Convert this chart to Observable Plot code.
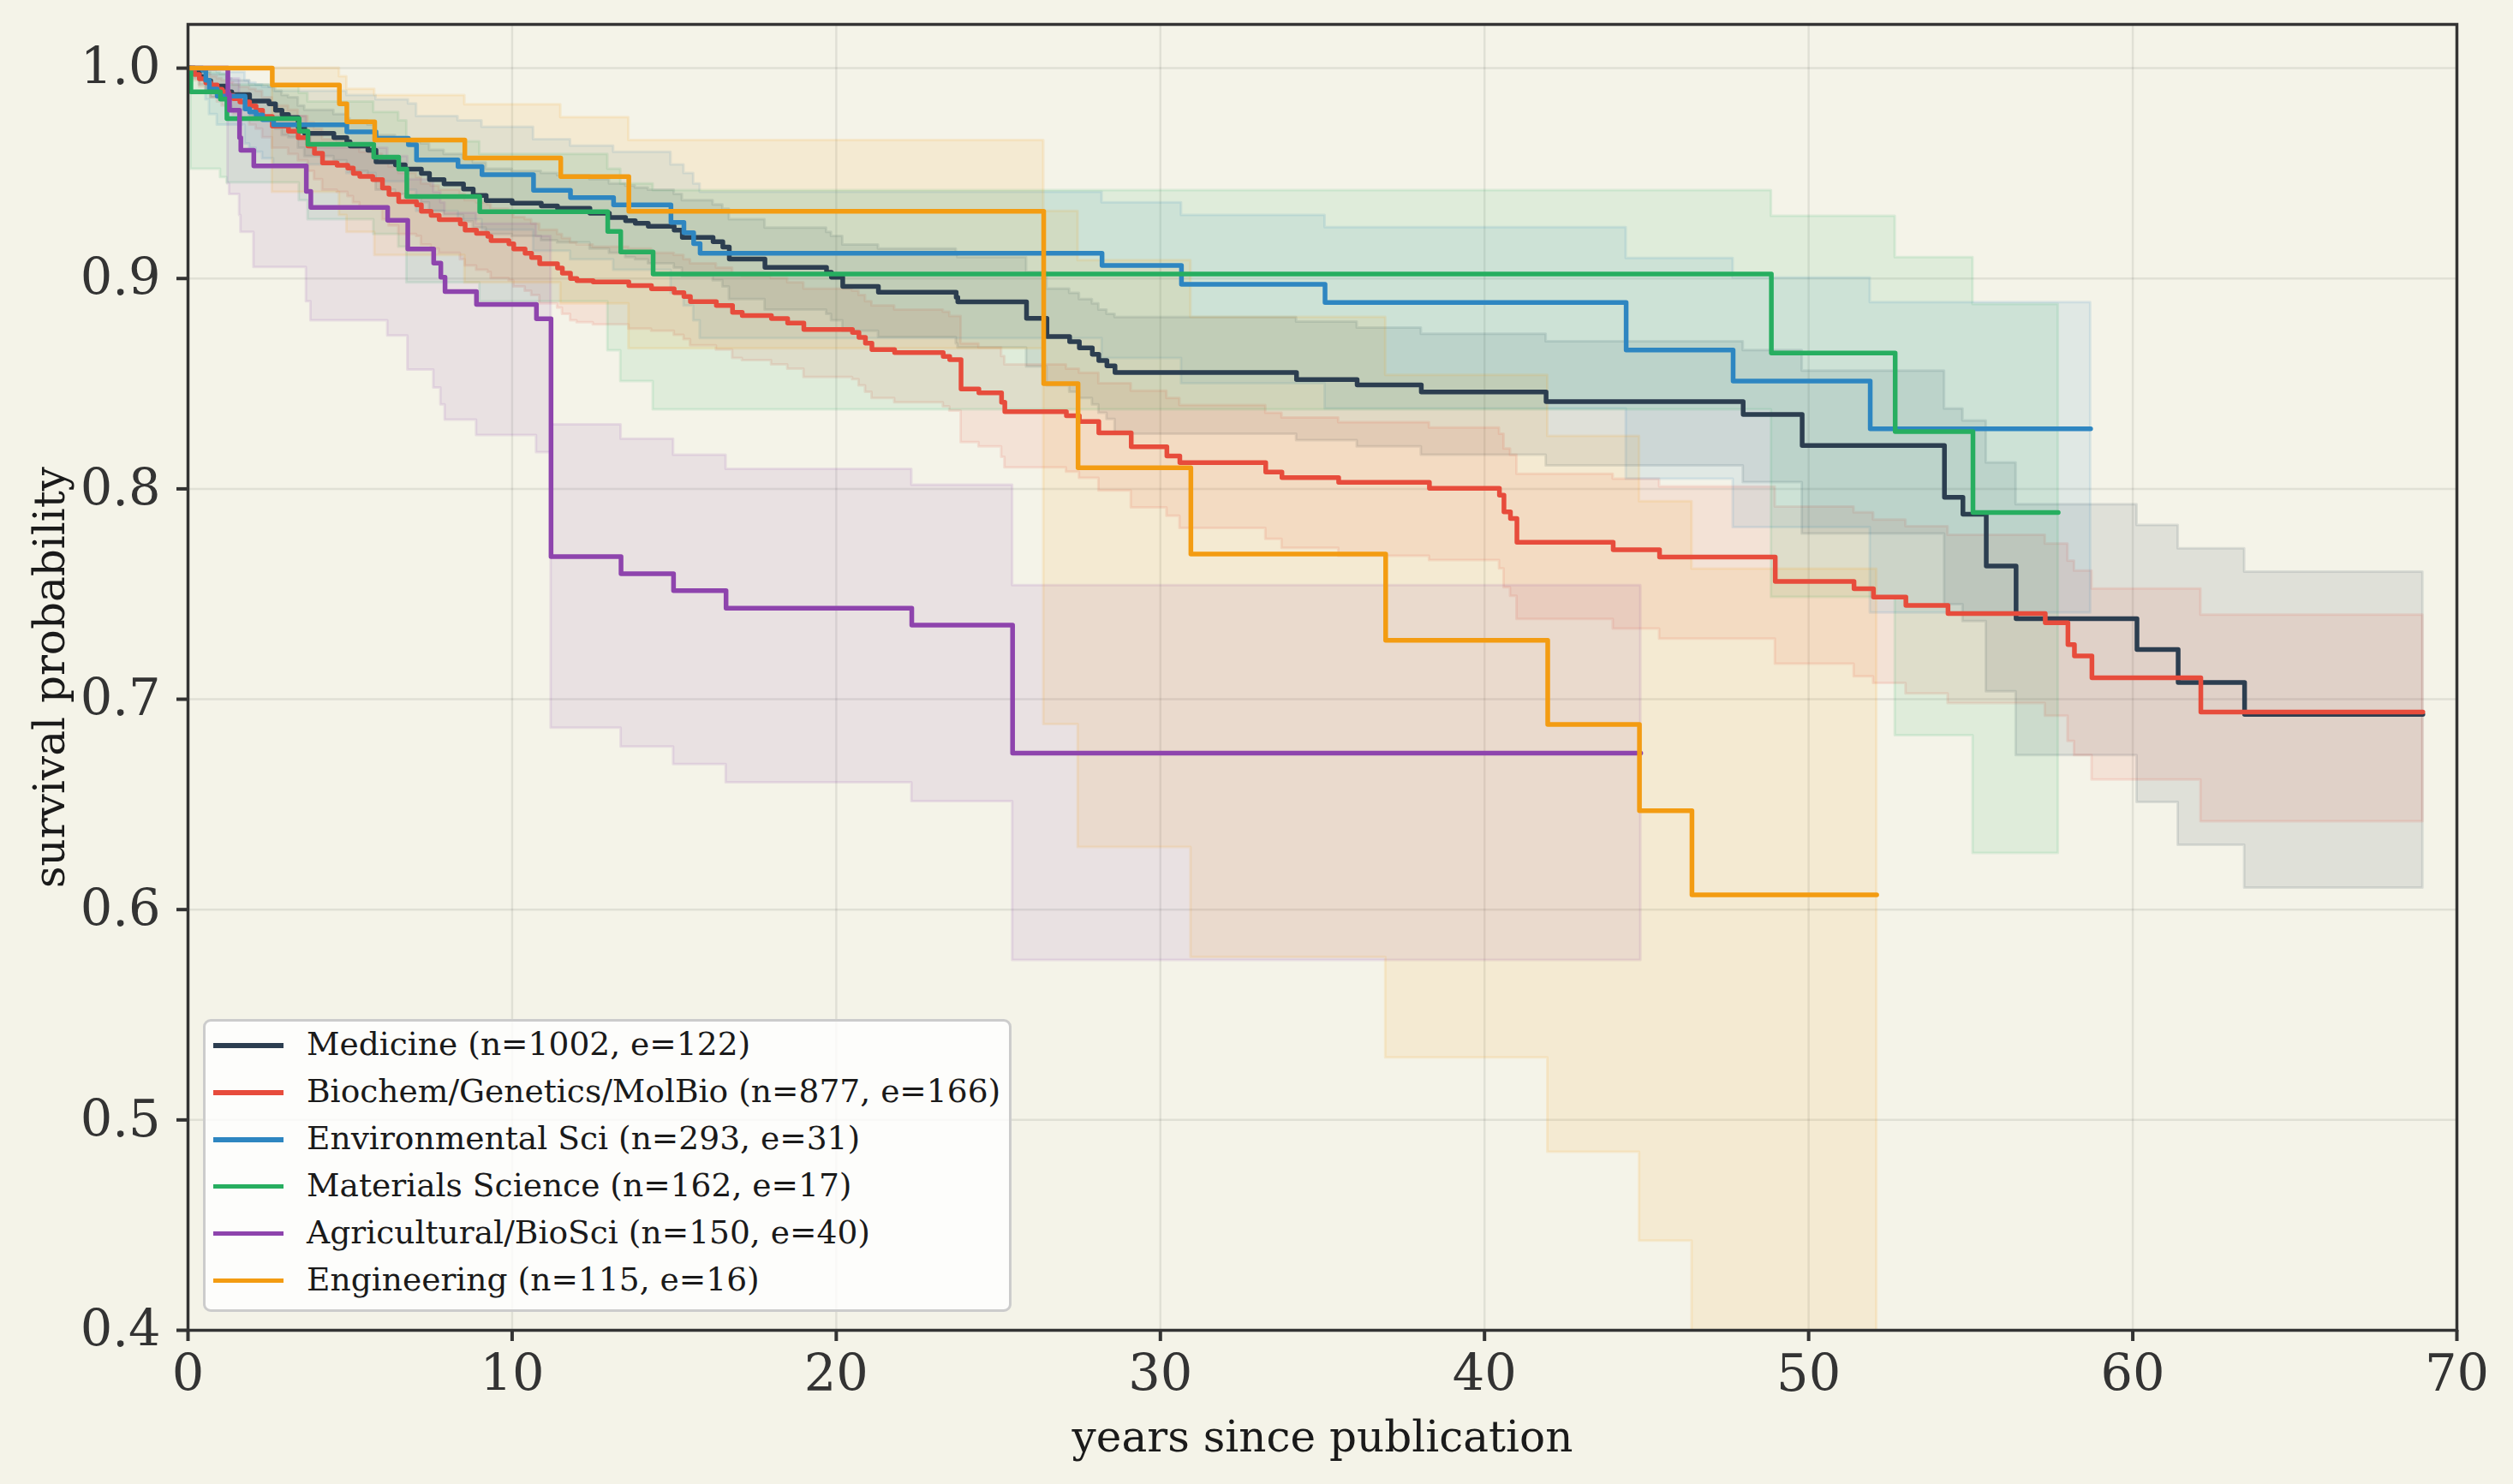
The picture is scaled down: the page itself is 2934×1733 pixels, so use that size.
<!DOCTYPE html>
<html><head><meta charset="utf-8">
<script src="https://cdn.jsdelivr.net/npm/d3@7"></script>
<script src="https://cdn.jsdelivr.net/npm/@observablehq/plot@0.6"></script>
<style>
html,body{margin:0;padding:0;background:#f4f3e8;}
#wrap{position:relative;width:2934px;height:1733px;background:#f4f3e8;font-family:"DejaVu Serif",serif;overflow:hidden;}
#legend{position:absolute;left:237px;top:1190px;width:938px;height:336px;background:rgba(255,255,255,0.8);border:3px solid #cccccc;border-radius:9px;}
.row{position:absolute;left:0;height:0;}
.sw{position:absolute;left:9px;width:82px;height:5.5px;top:-2.75px;}
.lab{position:absolute;left:118px;top:0;transform:translateY(-52%);font-size:37.6px;color:#1a1a1a;white-space:nowrap;line-height:1;}
</style></head><body><div id="wrap"></div>
<script>
const names = ["Medicine","Biochem/Genetics/MolBio","Environmental Sci","Materials Science","Agricultural/BioSci","Engineering"];
const nCounts = [1002,877,293,162,150,115];
const eCounts = [122,166,31,17,40,16];
const colors = ["#2c3e50","#e74c3c","#2e86c1","#27ae60","#8e44ad","#f39c12"];
const xTicks = [0,10,20,30,40,50,60,70];
const yTicks = [0.4,0.5,0.6,0.7,0.8,0.9,1.0];

// Medicine
const medT = [0,0.2,0.35,0.55,0.7,1.2,1.35,1.9,2.5,2.7,2.9,3.1,3.4,3.6,4.5,4.9,5.0,5.55,5.8,6.4,6.7,7.2,7.45,7.9,8.5,8.8,9.2,10.0,10.9,11.4,12.4,13.0,13.5,13.8,14.2,15.0,15.25,16.2,16.5,16.7,17.8,19.7,19.85,20.2,21.3,23.7,23.75,25.87,26.5,27.2,27.5,27.9,28.1,28.35,28.6,34.2,36.07,38.05,41.9,47.98,49.8,54.19,54.76,55.48,56.4,60.13,61.4,63.45,68.95];
const medS = [1.0,0.998,0.996,0.994,0.9915,0.9887,0.9874,0.9844,0.983,0.980,0.978,0.9765,0.972,0.969,0.967,0.965,0.963,0.961,0.9555,0.954,0.952,0.950,0.947,0.945,0.9425,0.9395,0.937,0.9358,0.9345,0.9334,0.931,0.929,0.9275,0.9263,0.9248,0.923,0.9195,0.9175,0.915,0.9093,0.9053,0.903,0.9006,0.8962,0.8935,0.891,0.8889,0.8811,0.8724,0.870,0.867,0.864,0.861,0.8585,0.8553,0.852,0.8494,0.8461,0.8415,0.8354,0.8206,0.796,0.788,0.7633,0.7383,0.7236,0.708,0.6928,0.6928];
const medHi = [1.0,1.0,0.999,0.998,0.997,0.995,0.994,0.992,0.991,0.989,0.987,0.986,0.982,0.980,0.978,0.976,0.975,0.973,0.968,0.967,0.965,0.964,0.961,0.959,0.957,0.955,0.952,0.951,0.950,0.949,0.947,0.945,0.944,0.943,0.942,0.940,0.937,0.935,0.933,0.928,0.924,0.922,0.920,0.916,0.914,0.912,0.910,0.903,0.895,0.893,0.890,0.888,0.885,0.883,0.8815,0.8793,0.8765,0.8735,0.870,0.8658,0.856,0.838,0.8323,0.8124,0.7925,0.7827,0.7716,0.7605,0.7605];
const medLo = [1.0,0.995,0.992,0.989,0.986,0.982,0.980,0.977,0.975,0.971,0.968,0.967,0.962,0.958,0.956,0.953,0.951,0.948,0.942,0.940,0.938,0.936,0.932,0.930,0.927,0.924,0.921,0.920,0.918,0.917,0.914,0.912,0.910,0.909,0.907,0.905,0.901,0.899,0.896,0.890,0.885,0.883,0.880,0.875,0.872,0.869,0.867,0.858,0.849,0.846,0.843,0.840,0.836,0.833,0.826,0.823,0.820,0.816,0.811,0.803,0.7786,0.745,0.737,0.7036,0.6733,0.651,0.6306,0.6103,0.6103];

// Biochem/Genetics/MolBio
const bioT = [0,0.2,0.35,0.55,0.7,0.9,1.05,1.25,1.4,1.6,1.9,2.1,2.3,2.6,3.1,3.4,3.7,3.9,4.15,4.6,4.93,5.1,5.3,5.7,6.0,6.2,6.5,7.05,7.2,7.5,7.75,8.4,8.55,8.9,9.25,9.35,9.9,10.05,10.4,10.6,10.85,11.4,11.55,11.8,12.0,12.5,13.6,14.3,15.0,15.3,15.5,16.3,16.8,17.1,18.0,18.5,19.0,20.5,20.7,20.9,21.1,21.8,23.3,23.5,23.85,24.4,25.1,25.2,27.1,27.5,28.1,29.1,30.2,30.6,33.25,33.75,35.5,38.3,40.46,40.6,40.8,41.0,43.97,45.4,48.97,51.4,52.0,53.0,54.3,57.3,58.0,58.2,58.74,62.1,68.95];
const bioS = [1.0,0.997,0.995,0.993,0.992,0.990,0.9887,0.987,0.9855,0.984,0.982,0.980,0.977,0.9725,0.970,0.967,0.963,0.9595,0.955,0.9538,0.9525,0.950,0.9485,0.947,0.943,0.940,0.9365,0.935,0.932,0.930,0.928,0.926,0.923,0.9215,0.920,0.918,0.9165,0.914,0.912,0.910,0.907,0.905,0.9025,0.900,0.899,0.8984,0.8966,0.8951,0.8933,0.8915,0.889,0.8872,0.8839,0.8824,0.881,0.8788,0.8758,0.8744,0.872,0.8693,0.8662,0.8648,0.863,0.8614,0.8475,0.8457,0.8412,0.8367,0.8348,0.832,0.8266,0.820,0.8156,0.8125,0.808,0.8054,0.8031,0.8003,0.797,0.7891,0.7859,0.7746,0.7711,0.7676,0.756,0.7525,0.7486,0.7446,0.7407,0.7364,0.726,0.7206,0.7102,0.6939,0.6939];
const bioHi = [1.0,0.999,0.998,0.997,0.996,0.995,0.994,0.993,0.992,0.991,0.990,0.989,0.986,0.982,0.980,0.977,0.974,0.971,0.966,0.965,0.964,0.962,0.960,0.959,0.955,0.953,0.950,0.948,0.945,0.944,0.942,0.940,0.937,0.936,0.935,0.933,0.932,0.929,0.928,0.926,0.923,0.921,0.919,0.917,0.916,0.915,0.914,0.912,0.911,0.909,0.907,0.905,0.902,0.901,0.900,0.898,0.895,0.894,0.892,0.889,0.887,0.885,0.884,0.882,0.869,0.867,0.863,0.859,0.857,0.855,0.850,0.8465,0.843,0.8396,0.836,0.8337,0.8315,0.829,0.826,0.819,0.816,0.807,0.8046,0.801,0.7914,0.7887,0.7852,0.782,0.778,0.7738,0.7657,0.761,0.7524,0.74,0.74];
const bioLo = [1.0,0.994,0.991,0.988,0.986,0.984,0.982,0.980,0.978,0.976,0.973,0.971,0.967,0.962,0.959,0.956,0.951,0.947,0.942,0.941,0.939,0.936,0.934,0.933,0.928,0.925,0.921,0.920,0.916,0.914,0.912,0.909,0.906,0.904,0.903,0.900,0.899,0.896,0.894,0.892,0.888,0.886,0.883,0.880,0.879,0.878,0.876,0.875,0.873,0.871,0.868,0.866,0.862,0.861,0.859,0.857,0.853,0.852,0.849,0.846,0.843,0.841,0.839,0.837,0.822,0.820,0.815,0.810,0.808,0.805,0.799,0.791,0.787,0.7812,0.776,0.7718,0.768,0.766,0.762,0.753,0.749,0.738,0.7334,0.7286,0.7167,0.7107,0.7075,0.7026,0.698,0.692,0.68,0.6733,0.6617,0.6418,0.6418];

// Environmental Sci
const envT = [0,0.45,0.55,0.66,0.9,1.76,1.9,2.1,2.3,2.64,4.9,5.8,6.8,7.05,8.33,9.07,10.66,11.8,13.13,14.9,15.3,15.6,15.8,28.2,30.65,35.08,44.37,47.67,51.9,58.7];
const envS = [1.0,0.999,0.9942,0.9901,0.9867,0.9806,0.9792,0.9778,0.9755,0.9731,0.9697,0.9667,0.9636,0.9564,0.9532,0.9494,0.9419,0.9385,0.935,0.9267,0.9218,0.9166,0.912,0.9062,0.8973,0.8886,0.866,0.8513,0.8286,0.8286];
const envHi = [1.0,1.0,1.0,0.999,0.998,0.994,0.993,0.992,0.991,0.989,0.987,0.985,0.983,0.977,0.975,0.972,0.966,0.963,0.960,0.954,0.950,0.945,0.941,0.936,0.930,0.9242,0.9096,0.9003,0.8886,0.8886];
const envLo = [1.0,0.995,0.985,0.978,0.973,0.964,0.962,0.960,0.957,0.954,0.950,0.946,0.942,0.932,0.928,0.923,0.913,0.909,0.904,0.893,0.887,0.880,0.8715,0.862,0.850,0.838,0.8046,0.7816,0.741,0.741];

// Materials Science
const matT = [0,0.09,1.0,1.2,3.43,3.7,5.73,6.5,6.75,9.0,12.95,13.35,14.35,48.85,52.67,55.07,57.7];
const matS = [1.0,0.9887,0.9853,0.976,0.970,0.9638,0.9577,0.952,0.939,0.9318,0.9224,0.9126,0.9021,0.8646,0.8272,0.7888,0.7888];
const matHi = [1.0,0.998,0.997,0.992,0.988,0.984,0.979,0.975,0.965,0.959,0.952,0.945,0.9418,0.9296,0.910,0.8877,0.8877];
const matLo = [1.0,0.952,0.948,0.9455,0.937,0.928,0.921,0.915,0.898,0.889,0.8657,0.851,0.8376,0.7485,0.6827,0.6267,0.6267];

// Agricultural/BioSci
const agrT = [0,1.23,1.28,1.59,1.63,2.03,3.65,3.79,6.16,6.78,7.58,7.8,7.93,8.9,10.75,11.2,13.36,14.98,16.6,22.33,25.44,44.82];
const agrS = [1.0,0.9874,0.980,0.967,0.961,0.9535,0.9414,0.9338,0.9277,0.914,0.9073,0.9006,0.8938,0.8877,0.8809,0.7678,0.7597,0.7516,0.7433,0.7352,0.6744,0.6744];
const agrHi = [1.0,0.998,0.995,0.987,0.983,0.977,0.968,0.962,0.958,0.947,0.941,0.936,0.931,0.926,0.920,0.8305,0.8237,0.816,0.8093,0.8018,0.7541,0.7541];
const agrLo = [1.0,0.945,0.94,0.93,0.922,0.9053,0.889,0.880,0.8727,0.8565,0.848,0.840,0.8327,0.8254,0.8173,0.6863,0.6773,0.669,0.6603,0.6514,0.5759,0.5759];

// Engineering
const engT = [0,2.6,4.67,4.9,5.76,8.54,11.5,13.6,26.4,27.46,30.94,36.95,41.95,44.78,46.4,52.1];
const engS = [1.0,0.992,0.983,0.9745,0.9658,0.9573,0.9484,0.932,0.850,0.810,0.769,0.728,0.688,0.647,0.607,0.607];
const engHi = [1.0,1.0,0.996,0.99,0.987,0.9826,0.9765,0.9656,0.932,0.9085,0.8816,0.854,0.825,0.794,0.7619,0.7619];
const engLo = [1.0,0.941,0.93,0.922,0.911,0.898,0.888,0.8666,0.688,0.6296,0.5773,0.5296,0.4847,0.4424,0.37,0.37];

const seriesT = [medT,bioT,envT,matT,agrT,engT];
const seriesS = [medS,bioS,envS,matS,agrS,engS];
const seriesHi = [medHi,bioHi,envHi,matHi,agrHi,engHi];
const seriesLo = [medLo,bioLo,envLo,matLo,agrLo,engLo];

const tables = names.map((name, i) => seriesT[i].map((t, j) => ({
  group: name, t, s: seriesS[i][j], hi: seriesHi[i][j], lo: seriesLo[i][j]
})));

const chart = Plot.plot({
  width: 2934,
  height: 1733,
  marginLeft: 219,
  marginRight: 66,
  marginTop: 28,
  marginBottom: 180,
  style: {fontFamily: "'DejaVu Serif', serif", background: "#f4f3e8", overflow: "visible"},
  x: {domain: [0, 70]},
  y: {domain: [0.4, 1.0208]},
  marks: [
    Plot.gridX({ticks: xTicks, stroke: "#000", strokeOpacity: 0.08, strokeWidth: 2.5}),
    Plot.gridY({ticks: yTicks, stroke: "#000", strokeOpacity: 0.08, strokeWidth: 2.5}),
    ...tables.map((d, i) => Plot.areaY(d, {
      x: "t", y1: "lo", y2: "hi", curve: "step-after",
      fill: colors[i], fillOpacity: 0.1,
      stroke: colors[i], strokeOpacity: 0.12, strokeWidth: 3, clip: true
    })),
    ...tables.map((d, i) => Plot.line(d, {
      x: "t", y: "s", curve: "step-after",
      stroke: colors[i], strokeWidth: 5.5, clip: true
    })),
    Plot.axisX({ticks: xTicks, tickSize: 13, tickPadding: 16, fontSize: 59, color: "#333", strokeWidth: 4, label: null}),
    Plot.axisY({ticks: yTicks, tickSize: 13, tickPadding: 19, fontSize: 59, color: "#333", strokeWidth: 4, tickFormat: d3.format(".1f"), label: null}),
    Plot.frame({stroke: "#333", strokeWidth: 3.5}),
    Plot.text(["years since publication"], {text: d => d, frameAnchor: "bottom", dy: 125, lineAnchor: "middle", fontSize: 50, fill: "#1a1a1a"}),
    Plot.text(["survival probability"], {text: d => d, frameAnchor: "left", dx: -161, rotate: -90, lineAnchor: "middle", textAnchor: "middle", fontSize: 50, fill: "#1a1a1a"})
  ]
});

const wrap = document.getElementById("wrap");
wrap.appendChild(chart);

const legend = document.createElement("div");
legend.id = "legend";
names.forEach((name, i) => {
  const row = document.createElement("div");
  row.className = "row";
  row.style.top = (28 + i * 54.9) + "px";
  const sw = document.createElement("div");
  sw.className = "sw";
  sw.style.background = colors[i];
  const lab = document.createElement("div");
  lab.className = "lab";
  lab.textContent = `${name} (n=${nCounts[i]}, e=${eCounts[i]})`;
  row.appendChild(sw);
  row.appendChild(lab);
  legend.appendChild(row);
});
wrap.appendChild(legend);
</script></body></html>
